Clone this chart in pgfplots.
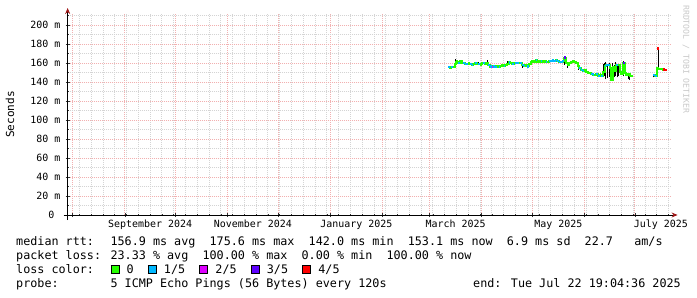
\documentclass[border=0pt]{standalone}
\usepackage{pgfplots}
\pgfplotsset{compat=1.18}
\usepackage{pgfplotstable}
\usepackage{fontspec}
\setmainfont{DejaVu Sans Mono}[WordSpace={1,0,0}]
\usetikzlibrary{arrows.meta}
\definecolor{lc0}{HTML}{26FF00}
\definecolor{lc1}{HTML}{00B8FF}
\definecolor{lc2}{HTML}{DD00FF}
\definecolor{lc3}{HTML}{5E00FF}
\definecolor{lc4}{HTML}{FF0000}
\definecolor{mgrid}{HTML}{F2B0B0}
\definecolor{ggrid}{HTML}{D4D4D4}
\definecolor{arrowred}{HTML}{A01818}
\definecolor{wm}{HTML}{C8C8C8}

% days since 1 Aug 2024, median rtt (ms), loss class
\pgfplotstableread{
d v c
223 155.5 1
224 155.2 0
225 156.0 1
226 155.8 0
227 158.8 0
228 161.5 0
229 160.4 1
230 161.8 0
231 160.2 0
232 159.6 1
233 159.0 1
234 158.6 1
235 159.4 0
236 158.9 1
237 158.3 1
238 159.2 0
239 159.7 1
240 158.7 0
241 159.3 1
242 158.5 0
243 159.5 0
244 160.2 1
245 159.4 0
246 160.0 0
247 158.1 1
248 156.3 1
249 155.6 2
250 156.4 1
251 156.0 1
252 156.8 0
253 156.2 1
254 157.1 0
255 157.5 0
256 156.9 1
257 157.6 0
258 158.7 0
259 160.6 1
260 160.0 0
261 159.3 1
262 160.3 0
263 159.6 1
264 160.4 1
265 159.7 0
266 160.2 1
267 158.0 1
268 156.6 1
269 157.4 0
270 156.4 1
271 158.6 0
272 161.2 0
273 161.7 0
274 160.9 0
275 163.0 1
276 161.6 0
277 161.2 0
278 161.9 1
279 161.3 0
280 162.0 0
281 161.4 1
282 161.0 0
283 162.3 1
284 161.8 1
285 162.6 1
286 161.9 1
287 162.9 1
288 162.2 1
289 161.4 1
290 161.0 1
291 162.0 1
292 165.8 3
293 160.0 0
294 158.4 0
295 159.8 0
296 161.3 0
297 161.9 0
298 160.8 0
299 160.0 0
300 157.2 0
301 154.8 1
302 152.6 1
303 152.0 1
304 152.8 0
305 150.2 0
306 149.1 0
307 149.9 0
308 148.5 1
309 147.9 1
310 147.3 0
311 148.4 1
312 146.7 1
313 147.9 0
314 146.4 1
315 150.8 0
316 157.2 1
317 158.0 1
318 158.3 1
319 155.2 0
320 142.6 0
321 155.9 0
322 151.9 0
323 157.8 1
324 158.1 0
325 150.1 0
326 148.7 0
327 159.9 3
328 149.1 0
329 147.5 0
330 148.3 0
331 146.4 0
332 146.4 0
338 nan 0
345 147.0 1
346 146.6 1
347 154.6 0
348 153.8 0
349 153.4 0
350 153.2 0
351 153.1 4
352 153.0 4
}\median

% smoke: day, low, spread (ms)
\pgfplotstableread{
d lo sp
227.3 156 8
241.0 158 3
246.3 159 4
258.2 158 4.5
267.5 155 5
268.2 156 3
292.2 158 9
293.8 155 5
300.6 153 7
315.2 145 14
315.9 146 14
316.8 143 18
318.0 144 14
318.8 145 15
319.7 143 14
320.8 144 16
321.6 145 13
322.7 146 15
323.4 145 14
324.5 146 12
327.0 146 16
330.2 143 7
331.0 142 7
345.3 145 3
347.8 153 22.6
}\smoke

\pgfplotstableread{
d v c
347.8 175.2 4
}\tops

\begin{document}
\begin{tikzpicture}[x=1bp,y=1bp]
\useasboundingbox (0,0) rectangle (697,297);
\begin{axis}[
  at={(72.7bp,82bp)}, anchor=origin,
  scale only axis, width=603.9bp, height=201bp,
  xmin=-3, xmax=355.8, ymin=0, ymax=211.6,
  axis x line=bottom, axis y line=left,
  x axis line style={black, line width=0.8bp, shorten <=-4bp, shorten >=-6bp,
     -{Stealth[color=arrowred,length=6bp,width=5bp]}},
  y axis line style={black, line width=0.8bp, shorten <=-5bp, shorten >=-6bp,
     -{Stealth[color=arrowred,length=6bp,width=5bp]}},
  unbounded coords=jump,
  font=\fontsize{10}{12}\selectfont,
  xtick={0,31,61,92,122,153,184,212,243,273,304,334},
  xticklabels={},
  minor xtick={-3,4,...,354},
  extra x ticks={46,107,168.5,227.5,288.5,349.5},
  extra x tick labels={September 2024,November 2024,January 2025,March 2025,May 2025,July 2025},
  extra x tick style={grid=none, major tick length=0pt},
  xticklabel style={inner sep=0pt, anchor=north, yshift=-4.5bp},
  ytick={0,20,...,200},
  yticklabels={0~~,20 m,40 m,60 m,80 m,100 m,120 m,140 m,160 m,180 m,200 m},
  minor ytick={10,30,...,210},
  yticklabel style={inner sep=0pt, anchor=east, xshift=-5bp},
  tick align=center,
  major tick length=4bp, minor tick length=2bp,
  every tick/.style={black!80, line width=0.6bp},
  grid=both,
  minor grid style={ggrid, line width=0.9bp, dash pattern=on 1bp off 1bp},
  major grid style={mgrid, line width=0.9bp, dash pattern=on 1bp off 1bp},
  ylabel={Seconds},
  ylabel style={font=\fontsize{11.1}{13}\selectfont, at={(axis description cs:-0.0954,0.5)}, anchor=center},
]
% smoke
\addplot[draw=none, mark=none, forget plot,
  error bars/.cd, y dir=plus, y explicit, error mark=none,
  error bar style={draw=black, solid, line width=1bp}]
  table[x=d, y=lo, y error plus=sp] {\smoke};
% median line
\addplot[const plot mark left, lc0, line width=2bp, forget plot] table[x=d, y=v] {\median};
% loss coloured steps
\addplot[scatter, only marks, mark=-, mark size=0.85bp, scatter src=explicit symbolic,
  every mark/.append style={line width=2.2bp},
  scatter/classes={0={lc0},1={lc1},2={lc2},3={lc3},4={lc4}}]
  table[x expr=\thisrow{d}+0.5, y=v, meta=c] {\median};
\addplot[only marks, mark=-, mark size=1.2bp, lc4, every mark/.append style={line width=2.2bp}]
  table[x=d, y=v] {\tops};
\end{axis}
\begin{scope}[every node/.style={inner sep=0pt, font=\fontsize{11.8}{14}\selectfont}]
\node[anchor=base west] at (16,52) {median rtt:~ 156.9 ms avg~ 175.6 ms max~ 142.0 ms min~ 153.1 ms now~ 6.9 ms sd~ 22.7~~ am/s};
\node[anchor=base west] at (16,38) {packet loss: 23.33 \% avg~ 100.00 \% max~ 0.00 \% min~ 100.00 \% now};
\node[anchor=base west] at (16,24) {\setlength{\fboxsep}{0pt}\setlength{\fboxrule}{0.9bp}loss color:~ \fcolorbox{black}{lc0}{\rule{0pt}{7.2bp}\hspace{7.2bp}}~0~ \fcolorbox{black}{lc1}{\rule{0pt}{7.2bp}\hspace{7.2bp}}~1/5~ \fcolorbox{black}{lc2}{\rule{0pt}{7.2bp}\hspace{7.2bp}}~2/5~ \fcolorbox{black}{lc3}{\rule{0pt}{7.2bp}\hspace{7.2bp}}~3/5~ \fcolorbox{black}{lc4}{\rule{0pt}{7.2bp}\hspace{7.2bp}}~4/5};
\node[anchor=base west] at (16,10) {probe:~~~~~~ 5 ICMP Echo Pings (56 Bytes) every 120s};
\node[anchor=base east] at (681,10) {end: Tue Jul 22 19:04:36 2025};
\end{scope}
\node[anchor=west, rotate=-90, inner sep=0pt, text=wm, font=\fontsize{8.2}{9}\selectfont] at (686,292) {RRDTOOL / TOBI OETIKER};
\end{tikzpicture}
\end{document}
